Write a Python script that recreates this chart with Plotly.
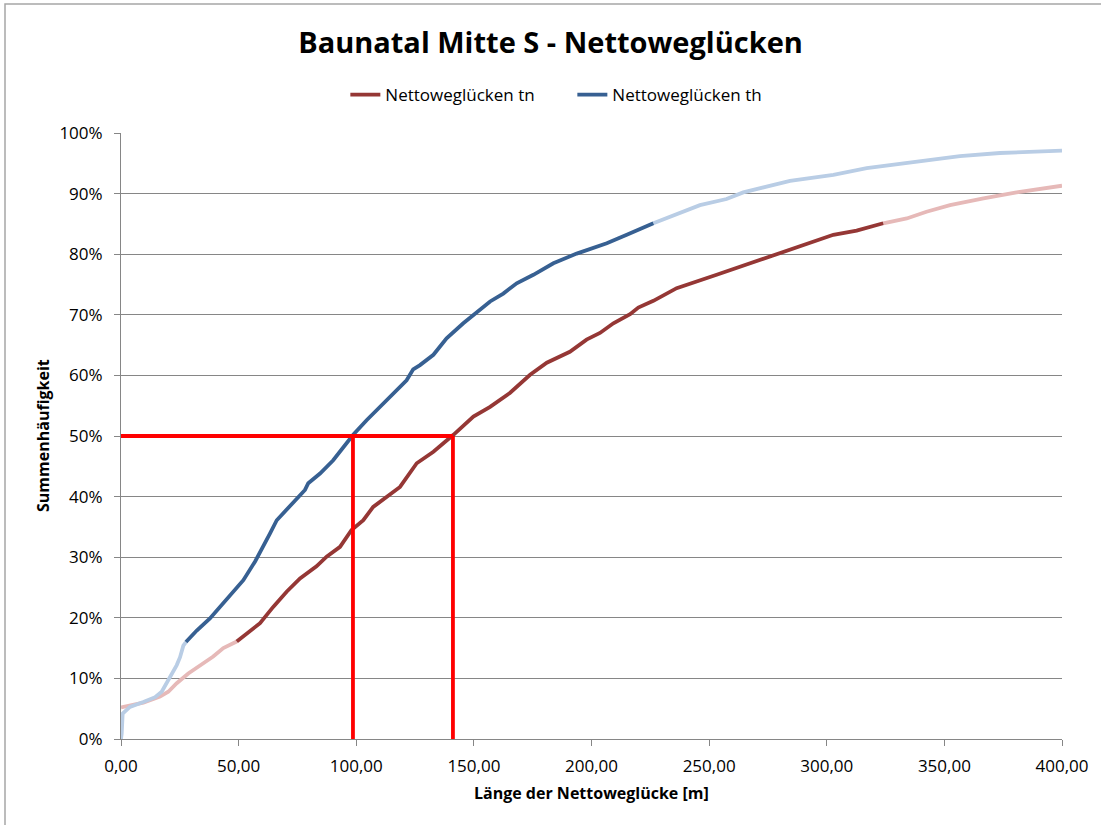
import plotly.graph_objects as go

# Cumulative frequency of net gap lengths (Nettoweglücken), lengths in metres, share in percent
th_len = [0, 0.3, 0.7, 3.8, 9.5, 14.5, 17.3, 19.4, 21.5, 23.7, 25.1, 26.5, 27.6, 32.2, 37.8,
          42.1, 46.3, 52, 57, 60.5, 63.3, 66.2, 71.1, 74.6, 78.2, 79.6, 84.6, 90.2, 98.7,
          104.4, 112.9, 121.4, 124.2, 127.1, 132.8, 138.4, 145.5, 150.5, 156.9, 162.5,
          168.2, 175.3, 183.8, 193.7, 206.5, 215, 226.3, 246.1, 257.4, 264.5, 284.4,
          302.8, 317, 338.2, 356.6, 373.6, 400]
th_cum = [0, 0.9, 4.2, 5.3, 6.1, 6.9, 7.8, 9.2, 10.5, 12.2, 13.5, 15.4, 16, 17.9, 19.9,
          21.8, 23.5, 26.2, 29.3, 31.7, 33.9, 36.1, 38.1, 39.7, 41.1, 42.2, 43.8, 46, 50.2,
          52.6, 55.9, 59.2, 61, 61.7, 63.4, 66.1, 68.6, 70.1, 72.2, 73.5,
          75.2, 76.6, 78.5, 80.1, 81.8, 83.2, 85.1, 88.1, 89.1, 90.2, 92.1,
          93.1, 94.2, 95.3, 96.2, 96.7, 97.1]

tn_len = [0, 9.5, 16.6, 20.1, 23.7, 28.6, 35, 39.2, 43.5, 49.2, 59.1, 64.7, 70.4, 76.1,
          83.1, 87.4, 93.1, 98, 103, 107.2, 112.9, 118.6, 125.7, 132.8, 141.3, 149.8,
          156.9, 161.1, 165.3, 173.9, 181, 190.8, 197.9, 203.6, 209.3, 216.4, 219.9,
          226.3, 236.2, 253.2, 264.5, 274.4, 284.4, 294.3, 302.8, 312.7, 324, 334,
          342.4, 352.4, 366.6, 380.7, 400]
tn_cum = [5.2, 6, 7, 7.8, 9.2, 10.8, 12.5, 13.6, 15, 16.1, 19.1, 21.8, 24.3, 26.5,
          28.5, 30.1, 31.7, 34.5, 36.1, 38.3, 40, 41.6, 45.5, 47.4, 50.2, 53.2,
          54.8, 55.9, 57.1, 60.1, 62.1, 63.9, 65.9, 67, 68.6, 70.1, 71.2,
          72.3, 74.4, 76.6, 78.1, 79.5, 80.8, 82.2, 83.2, 83.9, 85.1, 85.9,
          87, 88.1, 89.2, 90.2, 91.3]

# Median gap lengths (50 % of cumulative frequency)
median_th = 98.6
median_tn = 141.1
median_level = 50

# Band shown in full colour; outside it the curve is drawn pale
band_low, band_high = 16, 85

x_ticks = [0, 50, 100, 150, 200, 250, 300, 350, 400]
x_tick_text = ["0,00", "50,00", "100,00", "150,00", "200,00", "250,00", "300,00", "350,00", "400,00"]
y_ticks = [0, 10, 20, 30, 40, 50, 60, 70, 80, 90, 100]
y_tick_text = ["0%", "10%", "20%", "30%", "40%", "50%", "60%", "70%", "80%", "90%", "100%"]

FONT = "Open Sans"
GRID = "#868686"

series = [
    ("Nettoweglücken tn", tn_len, tn_cum, "#953735", "#E6B9B8"),
    ("Nettoweglücken th", th_len, th_cum, "#376092", "#B9CDE5"),
]

fig = go.Figure()


def split_index(values, level):
    for i, v in enumerate(values):
        if v >= level - 0.2:
            return i
    return len(values) - 1


for name, xs, ys, dark, pale in series:
    i0 = split_index(ys, band_low)
    i1 = split_index(ys, band_high)
    parts = [
        (xs[: i0 + 1], ys[: i0 + 1], pale, False),
        (xs[i1:], ys[i1:], pale, False),
        (xs[i0: i1 + 1], ys[i0: i1 + 1], dark, True),
    ]
    for px, py, col, legend in parts:
        fig.add_trace(go.Scatter(
            x=px, y=py, mode="lines", name=name, showlegend=legend,
            line=dict(color=col, width=3.8, shape="linear"),
            hoverinfo="skip",
        ))

# Median guide lines
red = dict(color="#FF0000", width=3.8)
fig.add_trace(go.Scatter(x=[0, median_tn], y=[median_level, median_level], mode="lines",
                         line=red, showlegend=False, hoverinfo="skip"))
for m in (median_th, median_tn):
    fig.add_trace(go.Scatter(x=[m, m], y=[0, median_level], mode="lines",
                             line=red, showlegend=False, hoverinfo="skip"))

L, R, T, B = 121, 39, 133, 86
W, H = 1101, 825
pw, ph = W - L - R, H - T - B


def px_x(p):
    return (p - L) / pw


def px_y(p):
    return (H - B - p) / ph


fig.update_layout(
    width=W, height=H,
    margin=dict(l=L, r=R, t=T, b=B),
    paper_bgcolor="white", plot_bgcolor="white",
    font=dict(family=FONT, size=17, color="#000000"),
    title=dict(text="<b>Baunatal Mitte S - Nettoweglücken</b>",
               font=dict(family=FONT, size=29, color="#000000"),
               x=0.5, xanchor="center", y=1 - 43 / H, yanchor="middle"),
    showlegend=True,
    legend=dict(orientation="h", x=px_x(351) - 0.006, xanchor="left",
                y=px_y(95), yanchor="middle",
                font=dict(family=FONT, size=17), bgcolor="rgba(0,0,0,0)",
                traceorder="normal", itemwidth=30, entrywidth=182),
    xaxis=dict(range=[0, 400], tickmode="array", tickvals=x_ticks, ticktext=x_tick_text,
               showgrid=False, zeroline=False, showline=True, linecolor=GRID, linewidth=1,
               ticks="outside", ticklen=6, tickcolor=GRID, tickfont=dict(size=17),
               ticklabelstandoff=6, fixedrange=True),
    yaxis=dict(range=[0, 100], tickmode="array", tickvals=y_ticks, ticktext=y_tick_text,
               showgrid=True, gridcolor=GRID, gridwidth=1, zeroline=False,
               showline=True, linecolor=GRID, linewidth=1,
               ticks="outside", ticklen=6, tickcolor=GRID, tickfont=dict(size=17),
               ticklabelstandoff=8, fixedrange=True),
    annotations=[
        dict(text="<b>Länge der Nettoweglücke [m]</b>", xref="paper", yref="paper",
             x=0.5, y=px_y(793), xanchor="center", yanchor="middle", showarrow=False,
             font=dict(family=FONT, size=16)),
        dict(text="<b>Summenhäufigkeit</b>", xref="paper", yref="paper",
             x=px_x(43), y=0.5, xanchor="center", yanchor="middle", showarrow=False,
             textangle=-90, font=dict(family=FONT, size=16)),
    ],
    shapes=[
        dict(type="rect", xref="paper", yref="paper",
             x0=px_x(5), x1=px_x(1112), y0=px_y(4), y1=px_y(840),
             line=dict(color="#A6A6A6", width=1.5), fillcolor="rgba(0,0,0,0)", layer="below"),
    ],
)

fig.write_html("out.html")
